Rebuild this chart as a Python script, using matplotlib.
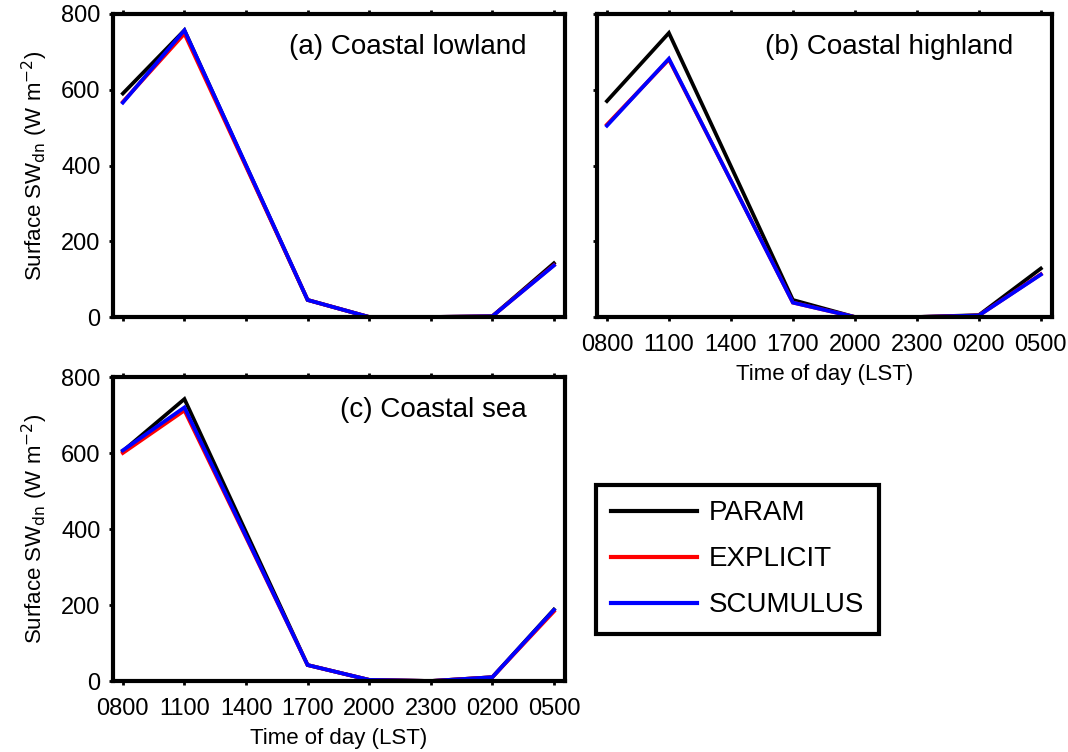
import matplotlib
matplotlib.use('Agg')
import matplotlib.pyplot as plt
import numpy as np

plt.rcParams['font.family'] = ['Liberation Sans', 'DejaVu Sans']

hours = ['0800', '1100', '1400', '1700', '2000', '2300', '0200', '0500']

# (a) Coastal lowland
low_param = [590, 757, 400, 45, 0, 0, 2, 142]
low_explicit = [568, 748, 397, 45, 0, 0, 2, 137]
low_scumulus = [566, 757, 401, 45, 0, 0, 2, 136]

# (b) Coastal highland
high_param = [570, 750, 398, 45, 0, 0, 5, 128]
high_explicit = [508, 680, 360, 38, 0, 0, 4, 113]
high_scumulus = [505, 682, 360, 38, 0, 0, 4, 112]

# (c) Coastal sea
sea_param = [605, 742, 392, 42, 3, 0, 10, 188]
sea_explicit = [600, 712, 378, 42, 3, 0, 10, 183]
sea_scumulus = [607, 720, 381, 42, 3, 0, 10, 187]

names = ['PARAM', 'EXPLICIT', 'SCUMULUS']
colors = ['black', 'red', 'blue']
x = np.arange(len(hours))

fig = plt.figure(figsize=(10.68, 7.52), dpi=100)
W, H = 1068., 752.
def box(l, t, r, b):
    return [l / W, 1 - b / H, (r - l) / W, (b - t) / H]

ax_a = fig.add_axes(box(113, 14, 565, 317))
ax_b = fig.add_axes(box(597, 14, 1052, 317))
ax_c = fig.add_axes(box(113, 377, 565, 681))

panels = [
    (ax_a, [low_param, low_explicit, low_scumulus], '(a) Coastal lowland'),
    (ax_b, [high_param, high_explicit, high_scumulus], '(b) Coastal highland'),
    (ax_c, [sea_param, sea_explicit, sea_scumulus], '(c) Coastal sea'),
]

handles = []
for ax, series, title in panels:
    for vals, nm, c in zip(series, names, colors):
        ln, = ax.plot(x, vals, color=c, lw=2.7, label=nm, solid_joinstyle='miter')
        if ax is ax_a:
            handles.append(ln)
    ax.set_xlim(-0.16, 7.18)
    ax.set_ylim(0, 800)
    ax.set_xticks(x)
    ax.set_xticklabels(hours)
    ax.set_yticks([0, 200, 400, 600, 800])
    ax.tick_params(direction='out', length=3, width=2, labelsize=17,
                   top=True, right=False)
    ax.tick_params(axis='x', pad=9)
    ax.tick_params(axis='y', pad=6)
    for s in ax.spines.values():
        s.set_linewidth(3)
    ax.text(0.915, 0.89, title, transform=ax.transAxes, ha='right', va='center',
            fontsize=20)

ax_a.set_xticklabels([])
ax_b.set_yticklabels([])
for ax in (ax_b, ax_c):
    ax.set_xlabel('Time of day (LST)', fontsize=16, labelpad=6)
for ax in (ax_a, ax_c):
    ax.set_ylabel('Surface SW$_{\\mathrm{dn}}$ (W m$^{-2}$)', fontsize=16, labelpad=8)

leg = fig.legend(handles=handles, loc='upper left',
                 bbox_to_anchor=(596 / W, 1 - 485 / H), fontsize=20,
                 fancybox=False, edgecolor='black', handlelength=3.1,
                 handletextpad=0.4, borderpad=0.55, labelspacing=0.72,
                 borderaxespad=0, framealpha=1)
leg.get_frame().set_linewidth(3)
for l in leg.get_lines():
    l.set_linewidth(3)

fig.savefig('out.png', dpi=100)
